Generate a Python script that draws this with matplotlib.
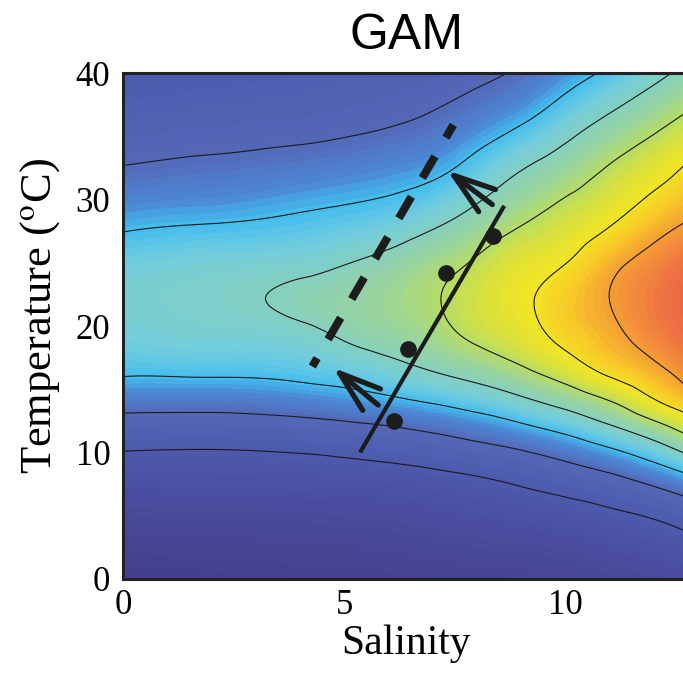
import numpy as np
import matplotlib
matplotlib.use("Agg")
import matplotlib.pyplot as plt
import matplotlib.tri as mtri
from matplotlib.colors import LinearSegmentedColormap

plt.rcParams['mathtext.fontset'] = 'stix'

# GAM surface (rows = temperature, columns = salinity)
salinity = [0, 2, 4, 5, 6, 7, 8, 9, 10, 11, 12, 13]
temperature = [0, 4, 8, 10, 12, 14, 16, 19, 22, 25, 28, 32, 36, 40]
surface = [
    [-0.90, -0.85, -0.80, -0.78, -0.75, -0.68, -0.62, -0.55, -0.45, -0.30, -0.15, 0.00],
    [-0.39, -0.33, -0.28, -0.24, -0.18, -0.07, 0.05, 0.15, 0.30, 0.55, 0.79, 1.19],
    [0.41, 0.45, 0.50, 0.56, 0.62, 0.77, 0.96, 1.21, 1.51, 1.84, 2.33, 2.95],
    [0.97, 0.93, 1.02, 1.12, 1.27, 1.44, 1.66, 1.92, 2.30, 2.79, 3.44, 4.33],
    [1.63, 1.60, 1.70, 1.81, 1.96, 2.18, 2.47, 2.84, 3.29, 3.89, 4.65, 5.63],
    [2.31, 2.30, 2.45, 2.60, 2.80, 3.06, 3.38, 3.79, 4.30, 4.95, 5.88, 6.70],
    [3.00, 3.02, 3.13, 3.27, 3.52, 3.86, 4.20, 4.67, 5.27, 6.01, 6.65, 7.41],
    [3.53, 3.65, 3.75, 4.04, 4.34, 4.66, 5.12, 5.57, 6.21, 6.76, 7.36, 8.00],
    [3.70, 3.85, 4.15, 4.36, 4.60, 4.92, 5.38, 5.85, 6.40, 7.00, 7.60, 8.20],
    [3.48, 3.64, 3.76, 3.96, 4.25, 4.66, 5.10, 5.63, 5.98, 6.73, 7.33, 8.00],
    [2.88, 3.02, 3.18, 3.32, 3.51, 3.89, 4.42, 4.98, 5.43, 5.96, 6.64, 7.20],
    [2.12, 2.26, 2.43, 2.54, 2.67, 2.89, 3.42, 4.07, 4.60, 5.16, 5.71, 6.36],
    [1.50, 1.62, 1.73, 1.82, 1.95, 2.15, 2.52, 2.97, 3.59, 4.22, 4.79, 5.39],
    [1.10, 1.20, 1.30, 1.38, 1.45, 1.60, 1.80, 2.12, 2.62, 3.15, 3.75, 4.40],
]
contour_levels = [1, 2, 3, 4, 5, 6, 7]

# observations and shift lines
obs_sal = [6.13, 6.45, 7.31, 8.37]
obs_temp = [12.5, 18.2, 24.2, 27.1]
fit_sal = [5.36, 8.62]
fit_temp = [10.0, 29.5]
shift_sal = [4.28, 7.47]
shift_temp = [16.8, 35.9]
arrow_tail = [(5.77, 13.75), (8.35, 29.6)]
arrow_head = [(4.75, 16.7), (7.33, 32.3)]

# colour scale: surface value -> colour
cmap_values = [-0.9, 0.0, 1.0, 2.0, 2.6, 3.0, 3.5, 4.0, 4.5, 5.0, 5.5, 6.0, 6.5, 7.0, 7.6, 8.3]
cmap_colors = ['#45408c', '#4a4c9e', '#4d5aad', '#5468b8', '#4c88d4', '#42bdee',
               '#70ccdf', '#84d0c0', '#98d4a0', '#b4dc68', '#dce238', '#f4e424',
               '#f8c828', '#f4a034', '#f07a40', '#e65a4a']
vmin, vmax = cmap_values[0], cmap_values[-1]
cmap = LinearSegmentedColormap.from_list(
    'gam', [((v - vmin) / (vmax - vmin), c) for v, c in zip(cmap_values, cmap_colors)])

# smooth the grid with matplotlib's cubic tri-interpolation,
# on a rescaled temperature axis so the cells are close to square
t_scale = 3.0
S, T = np.meshgrid(salinity, temperature)
tri = mtri.Triangulation(S.ravel(), T.ravel() / t_scale)
z = np.array(surface).ravel()
refiner = mtri.UniformTriRefiner(tri)
tri_f, z_f = refiner.refine_field(
    z, subdiv=4, triinterpolator=mtri.CubicTriInterpolator(tri, z, kind='min_E'))
tri_plot = mtri.Triangulation(tri_f.x, tri_f.y * t_scale, tri_f.triangles)

fig = plt.figure(figsize=(6.83, 6.73), dpi=100)
ax = fig.add_axes([0.180, 0.1397, 0.829, 0.7518])

ax.tricontourf(tri_plot, z_f, levels=np.linspace(vmin, vmax, 80), cmap=cmap, extend='both')
ax.tricontour(tri_plot, z_f, levels=contour_levels, colors='#1a1a1a', linewidths=0.8)

ax.plot(fit_sal, fit_temp, color='#1c1c1c', lw=3.0, solid_capstyle='butt')
ax.plot(shift_sal, shift_temp, color='#1c1c1c', lw=5.8, linestyle=(1.9, (3.1, 2.7)))
ax.plot(obs_sal, obs_temp, 'o', color='#1c1c1c', ms=11)
for tail, head in zip(arrow_tail, arrow_head):
    ax.annotate('', xy=head, xytext=tail,
                arrowprops=dict(arrowstyle='->, head_length=3.0, head_width=1.0',
                                lw=3.8, color='#1c1c1c', shrinkA=0, shrinkB=0,
                                mutation_scale=10))

ax.set_xlim(0, 12.8)
ax.set_ylim(0, 40)
ax.set_xticks([0, 5, 10])
ax.set_yticks([0, 10, 20, 30, 40])
ax.tick_params(length=0, labelsize=25)
ax.tick_params(axis='x', pad=7)
ax.tick_params(axis='y', pad=9)
for lab in ax.get_xticklabels() + ax.get_yticklabels():
    lab.set_family('Liberation Serif')
for sp in ax.spines.values():
    sp.set_linewidth(2.2)
    sp.set_color('#222222')

ax.set_xlabel('Salinity', family='Liberation Serif', fontsize=30, labelpad=2)
ax.set_ylabel('Temperature ($^{\\rm o}$C)', family='Liberation Serif', fontsize=32)
ax.yaxis.set_label_coords(-0.107, 0.52)
ax.set_title('GAM', family='Liberation Sans', fontsize=36, pad=17)

fig.savefig('out.png', dpi=100)
